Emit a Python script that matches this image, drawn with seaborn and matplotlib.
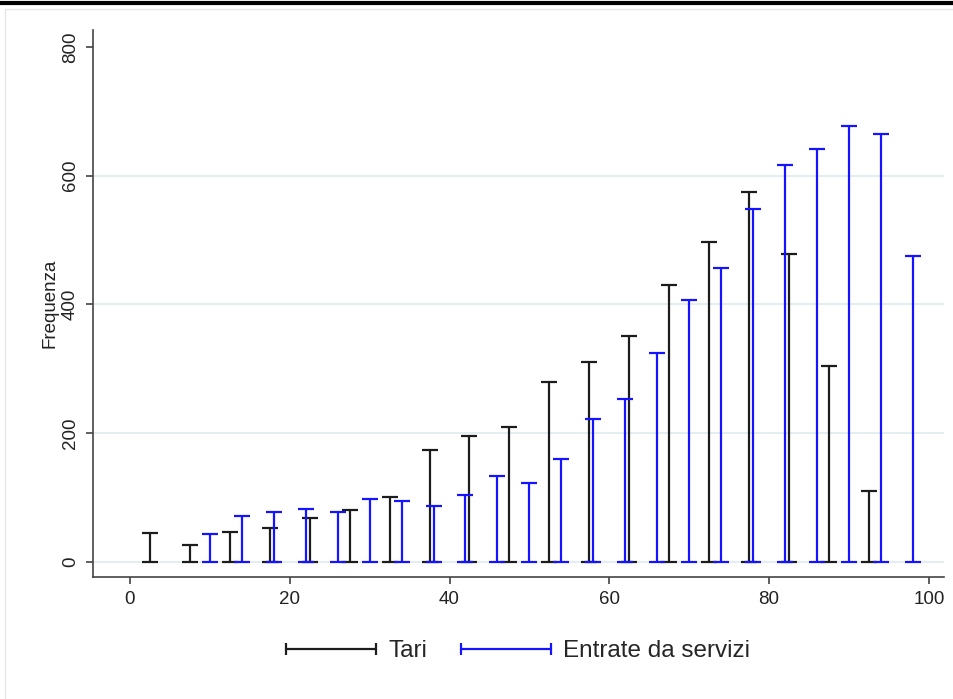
import pandas as pd
import numpy as np
import seaborn as sns
import matplotlib.pyplot as plt
from matplotlib.lines import Line2D
from matplotlib.patches import Rectangle
from matplotlib.legend_handler import HandlerLine2D

# bin midpoints and frequencies
tari_x = [2.5, 7.5, 12.5, 17.5, 22.5, 27.5, 32.5, 37.5, 42.5, 47.5,
          52.5, 57.5, 62.5, 67.5, 72.5, 77.5, 82.5, 87.5, 92.5]
tari_freq = [45, 27, 47, 53, 69, 81, 101, 174, 195, 209,
             279, 311, 351, 431, 497, 574, 478, 304, 110]

servizi_x = [10, 14, 18, 22, 26, 30, 34, 38, 42, 46, 50, 54,
             58, 62, 66, 70, 74, 78, 82, 86, 90, 94, 98]
servizi_freq = [43, 71, 77, 83, 77, 98, 94, 87, 104, 134, 122, 160,
                222, 253, 325, 407, 456, 548, 616, 642, 677, 665, 475]

series_names = ["Tari", "Entrate da servizi"]
series_colors = ["#1c1c1c", "#1414ff"]

df = pd.concat([
    pd.DataFrame({"x": tari_x, "freq": tari_freq, "serie": series_names[0]}),
    pd.DataFrame({"x": servizi_x, "freq": servizi_freq, "serie": series_names[1]}),
])

sns.set_style("white")
plt.rcParams['font.family'] = ['Liberation Sans', 'DejaVu Sans']

fig = plt.figure(figsize=(9.54, 6.99), dpi=100)
ax = fig.add_axes([93 / 954, 1 - 577 / 699, (944 - 93) / 954, (577 - 30) / 699])

# light grid lines like Stata's s2color scheme
for yv in [0, 200, 400, 600]:
    ax.axhline(yv, color="#e4eef1", lw=1.4, zorder=0)

# range caps from 0 to frequency
handles = []
for name, col in zip(series_names, series_colors):
    d = df[df["serie"] == name]
    ax.errorbar(d["x"], d["freq"], yerr=[d["freq"], np.zeros(len(d))],
                fmt="none", ecolor=col, elinewidth=1.6, capsize=5.5,
                capthick=1.6, zorder=3)
    handles.append(Line2D([], [], color=col, lw=1.6, marker="|",
                          markersize=8, markeredgewidth=1.6))

ax.set_xlim(-4.63, 101.9)
ax.set_ylim(-23.3, 826.4)
ax.set_xticks([0, 20, 40, 60, 80, 100])
ax.set_yticks([0, 200, 400, 600, 800])
ax.tick_params(axis="both", direction="out", length=5, width=1.1,
               bottom=True, left=True,
               color="#333333", labelsize=13.5, labelcolor="#222222")
ax.tick_params(axis="y", pad=5)
ax.tick_params(axis="x", pad=5)
for lab in ax.get_yticklabels():
    lab.set_rotation(90)
    lab.set_va("center")

ax.set_ylabel("Frequenza", fontsize=13.5, color="#222222")
ax.yaxis.set_label_coords(-0.040, 0.5)

sns.despine(ax=ax)
for s in ["left", "bottom"]:
    ax.spines[s].set_color("#444444")
    ax.spines[s].set_linewidth(1.2)

fig.legend(handles, series_names, loc="center", ncol=2,
           bbox_to_anchor=(518 / 954, 1 - 651 / 699), frameon=False,
           fontsize=17.5, handlelength=3.7, handletextpad=0.5,
           columnspacing=1.4,
           handler_map={Line2D: HandlerLine2D(numpoints=2, marker_pad=0)})

# page frame and top rule
fig.add_artist(Rectangle((5 / 954, -0.01), 1, 1 - 9 / 699 + 0.01,
                         transform=fig.transFigure, fill=False,
                         edgecolor="#e6e6e6", lw=1))
fig.add_artist(Line2D([0, 1], [1 - 2.5 / 699] * 2, transform=fig.transFigure,
                      color="black", lw=3))

fig.savefig("out.png", dpi=100)
